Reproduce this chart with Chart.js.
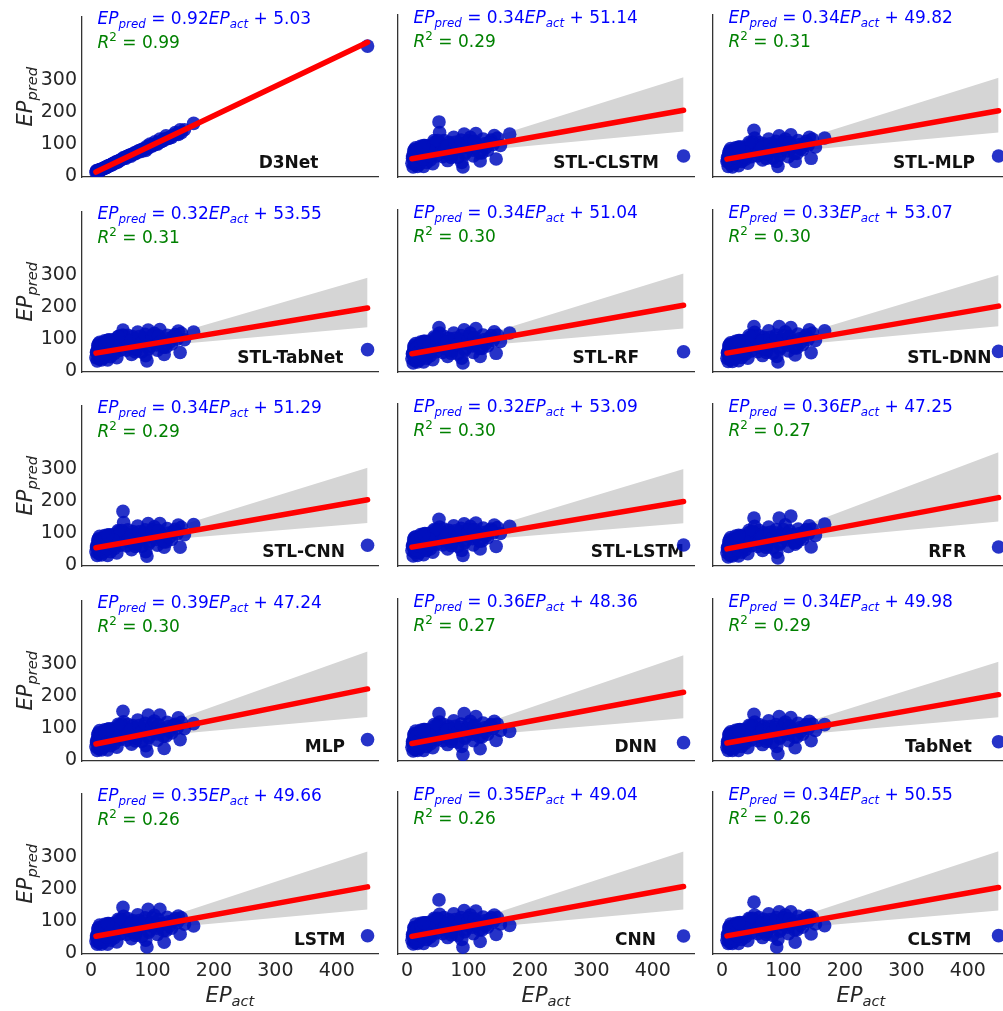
<!DOCTYPE html>
<html>
<head>
<meta charset="utf-8">
<script src="https://cdn.jsdelivr.net/npm/chart.js@4.4.1/dist/chart.umd.min.js"></script>
<style>
  html, body { margin: 0; padding: 0; background: #fff; overflow: hidden; }
  #grid { position: relative; width: 1003px; height: 1011px; }
  #grid canvas { position: absolute; }
</style>
</head>
<body>
<div id="grid"></div>
<script>
// Actual EP values (shared test set)
const actual = [8, 9, 10, 11, 12, 13, 14, 15, 16, 17,
  18, 20, 21, 22, 24, 25, 27, 28, 30, 32,
  34, 35, 38, 40, 42, 45, 48, 52, 53, 55,
  58, 60, 63, 66, 70, 73, 76, 80, 83, 86,
  89, 91, 93, 96, 100, 104, 108, 112, 115, 119,
  122, 126, 131, 137, 142, 145, 147, 152, 167, 450,
  9, 11, 12, 14, 16, 19, 23, 26, 29, 33,
  37, 41, 46, 50, 57, 62, 68, 75, 85, 98,
  60, 65, 72, 78, 82, 88, 94, 99, 103, 107,
  110, 114, 118, 124, 128, 134, 140, 44, 36, 27];

// Predicted EP for each model
const predD3Net = [12, 15, 13, 17, 16, 19, 17, 20, 19, 21,
  22, 23, 25, 24, 28, 27, 31, 30, 33, 35,
  37, 38, 41, 44, 45, 48, 51, 55, 58, 57,
  61, 62, 66, 67, 72, 74, 77, 79, 84, 85,
  80, 93, 87, 100, 94, 107, 100, 116, 108, 112,
  126, 118, 121, 136, 130, 145, 136, 145, 165, 407,
  17, 14, 18, 16, 21, 22, 27, 28, 33, 34,
  40, 42, 47, 52, 56, 64, 68, 73, 83, 96,
  63, 62, 70, 80, 77, 84, 92, 95, 98, 103,
  104, 108, 115, 118, 121, 128, 132, 44, 37, 30];
const predStlClstm = [40, 62, 28, 78, 50, 35, 88, 45, 60, 30,
  72, 55, 38, 92, 48, 66, 30, 82, 58, 42,
  95, 70, 50, 85, 38, 105, 62, 168, 135, 100,
  60, 110, 72, 48, 98, 65, 120, 80, 58, 102,
  42, 28, 130, 75, 110, 88, 62, 132, 95, 47,
  72, 100, 80, 112, 126, 53, 118, 95, 130, 62,
  55, 68, 82, 48, 75, 60, 88, 52, 95, 70,
  62, 88, 78, 110, 85, 92, 105, 82, 95, 88,
  75, 92, 58, 105, 85, 112, 68, 98, 120, 80,
  108, 90, 72, 115, 88, 105, 98, 110, 78, 95];
const predStlMlp = [45, 58, 30, 72, 52, 38, 85, 48, 65, 28,
  75, 52, 40, 88, 45, 70, 32, 78, 55, 45,
  90, 68, 52, 82, 40, 100, 60, 142, 118, 95,
  62, 105, 70, 50, 95, 68, 115, 82, 55, 98,
  45, 30, 125, 78, 108, 90, 60, 128, 92, 45,
  70, 98, 82, 108, 120, 55, 115, 90, 118, 62,
  50, 65, 78, 52, 70, 58, 82, 55, 90, 68,
  60, 85, 75, 105, 80, 90, 100, 78, 92, 85,
  72, 88, 55, 100, 82, 108, 65, 95, 115, 78,
  104, 88, 70, 110, 85, 100, 95, 105, 75, 90];
const predStlTabNet = [42, 60, 32, 80, 55, 38, 90, 50, 62, 35,
  75, 58, 42, 95, 50, 68, 35, 85, 60, 45,
  98, 72, 55, 88, 42, 108, 65, 128, 112, 100,
  65, 112, 75, 52, 100, 68, 122, 85, 60, 105,
  48, 32, 128, 78, 112, 90, 65, 130, 98, 52,
  75, 102, 85, 115, 125, 58, 118, 98, 122, 67,
  58, 70, 85, 50, 78, 62, 90, 55, 98, 72,
  65, 90, 80, 112, 88, 95, 108, 85, 98, 92,
  78, 95, 60, 108, 88, 115, 70, 100, 118, 82,
  110, 92, 75, 112, 90, 108, 100, 108, 80, 96];
const predStlRf = [38, 55, 25, 75, 48, 32, 85, 42, 58, 28,
  70, 52, 35, 90, 45, 62, 28, 80, 55, 40,
  92, 68, 48, 82, 35, 102, 60, 135, 118, 95,
  58, 108, 70, 45, 95, 62, 118, 78, 52, 100,
  40, 25, 128, 72, 108, 85, 58, 132, 92, 45,
  70, 98, 78, 110, 122, 55, 112, 92, 118, 60,
  52, 65, 80, 45, 72, 58, 85, 50, 92, 68,
  60, 85, 75, 108, 82, 90, 102, 80, 92, 85,
  72, 90, 55, 102, 82, 110, 65, 95, 118, 78,
  105, 88, 70, 112, 85, 102, 95, 106, 76, 92];
const predStlDnn = [40, 58, 30, 78, 52, 35, 88, 45, 62, 30,
  72, 55, 38, 92, 48, 65, 32, 82, 58, 42,
  95, 70, 52, 85, 40, 105, 62, 138, 120, 98,
  60, 110, 72, 48, 98, 65, 125, 80, 55, 102,
  45, 28, 138, 75, 110, 88, 62, 135, 95, 50,
  72, 100, 82, 112, 128, 57, 118, 95, 125, 61,
  55, 68, 82, 48, 75, 60, 88, 52, 95, 70,
  62, 88, 78, 110, 85, 92, 105, 82, 95, 90,
  75, 92, 58, 105, 85, 112, 68, 98, 122, 80,
  108, 90, 72, 115, 88, 105, 98, 110, 78, 95];
const predStlCnn = [42, 60, 30, 78, 50, 35, 90, 45, 62, 32,
  72, 55, 40, 92, 48, 68, 30, 82, 58, 42,
  95, 70, 52, 85, 38, 105, 62, 168, 133, 100,
  60, 110, 72, 48, 98, 65, 122, 80, 58, 102,
  42, 28, 130, 75, 112, 88, 62, 130, 95, 56,
  72, 100, 80, 112, 125, 56, 118, 95, 127, 62,
  55, 66, 82, 50, 75, 58, 88, 52, 95, 70,
  62, 88, 78, 108, 85, 92, 105, 82, 95, 88,
  75, 90, 58, 104, 85, 110, 68, 98, 120, 80,
  108, 90, 72, 114, 88, 104, 98, 108, 78, 94];
const predStlLstm = [45, 62, 28, 80, 52, 38, 88, 48, 60, 30,
  75, 55, 40, 95, 50, 68, 32, 85, 58, 45,
  98, 72, 50, 88, 40, 108, 65, 142, 118, 100,
  62, 112, 75, 50, 100, 68, 122, 82, 58, 105,
  45, 30, 128, 78, 112, 90, 62, 130, 98, 50,
  75, 102, 85, 112, 124, 58, 116, 98, 120, 62,
  58, 70, 85, 48, 78, 60, 90, 55, 98, 72,
  62, 90, 80, 110, 88, 95, 108, 85, 98, 90,
  78, 94, 60, 106, 88, 114, 70, 100, 120, 82,
  110, 92, 74, 115, 90, 106, 100, 110, 80, 96];
const predRfr = [38, 55, 25, 72, 48, 30, 85, 42, 58, 28,
  68, 50, 35, 90, 45, 62, 28, 80, 52, 40,
  92, 65, 48, 82, 35, 102, 60, 146, 120, 95,
  58, 108, 70, 45, 95, 62, 118, 78, 52, 100,
  40, 22, 146, 72, 110, 88, 58, 152, 95, 65,
  70, 98, 80, 110, 122, 56, 112, 92, 127, 56,
  50, 62, 78, 45, 70, 55, 82, 48, 90, 65,
  58, 82, 72, 105, 80, 88, 100, 78, 92, 85,
  72, 88, 55, 102, 82, 110, 65, 95, 125, 78,
  106, 88, 70, 112, 85, 102, 96, 108, 76, 92];
const predMlp = [42, 60, 30, 80, 52, 35, 92, 48, 65, 32,
  75, 58, 40, 95, 50, 70, 32, 85, 60, 45,
  98, 72, 52, 88, 40, 108, 65, 153, 120, 100,
  62, 112, 75, 50, 100, 68, 125, 82, 58, 105,
  45, 28, 141, 78, 115, 90, 62, 141, 98, 36,
  75, 105, 85, 112, 132, 64, 118, 98, 114, 64,
  55, 68, 85, 50, 78, 60, 90, 55, 98, 72,
  62, 90, 80, 112, 88, 95, 108, 85, 98, 92,
  78, 95, 60, 108, 88, 115, 70, 100, 122, 82,
  110, 92, 75, 118, 90, 108, 100, 112, 80, 96];
const predDnn = [40, 58, 28, 78, 50, 32, 90, 45, 62, 30,
  72, 55, 38, 92, 48, 68, 30, 82, 58, 42,
  95, 70, 50, 85, 38, 105, 62, 144, 118, 98,
  60, 110, 72, 48, 98, 65, 122, 80, 55, 102,
  42, 17, 144, 75, 112, 88, 60, 135, 95, 35,
  72, 100, 80, 110, 120, 61, 112, 92, 89, 54,
  52, 65, 82, 48, 75, 58, 88, 52, 95, 70,
  60, 88, 78, 110, 85, 92, 105, 82, 95, 88,
  75, 92, 58, 105, 85, 112, 68, 98, 120, 80,
  108, 90, 72, 115, 88, 105, 98, 110, 78, 95];
const predTabNet = [40, 58, 30, 78, 52, 35, 88, 45, 62, 30,
  72, 55, 38, 92, 48, 65, 30, 82, 58, 42,
  95, 70, 52, 85, 38, 105, 62, 142, 118, 98,
  60, 110, 72, 48, 98, 65, 122, 80, 55, 102,
  42, 20, 135, 75, 112, 88, 60, 132, 95, 38,
  72, 100, 80, 110, 120, 60, 112, 92, 110, 57,
  52, 65, 82, 48, 75, 58, 88, 52, 95, 70,
  60, 88, 78, 108, 85, 92, 105, 82, 95, 88,
  75, 90, 58, 104, 85, 110, 68, 98, 118, 80,
  106, 90, 72, 114, 88, 104, 98, 108, 78, 94];
const predLstm = [38, 55, 28, 75, 48, 32, 88, 42, 60, 28,
  70, 52, 35, 90, 45, 65, 28, 80, 55, 40,
  92, 68, 48, 82, 35, 102, 60, 143, 115, 95,
  58, 108, 70, 45, 95, 62, 120, 78, 52, 100,
  40, 19, 137, 72, 110, 85, 58, 137, 92, 34,
  70, 98, 78, 108, 116, 59, 110, 90, 85, 54,
  50, 62, 80, 45, 72, 55, 85, 50, 92, 68,
  58, 85, 75, 105, 82, 90, 102, 80, 92, 85,
  72, 90, 55, 102, 82, 110, 65, 95, 118, 78,
  105, 88, 70, 112, 85, 102, 95, 106, 76, 92];
const predCnn = [40, 58, 28, 78, 50, 32, 90, 45, 62, 30,
  72, 55, 38, 92, 48, 65, 30, 82, 58, 42,
  95, 70, 50, 85, 38, 105, 62, 165, 120, 98,
  60, 110, 72, 48, 98, 65, 122, 80, 55, 102,
  42, 18, 132, 75, 110, 88, 60, 130, 95, 36,
  72, 100, 80, 110, 118, 58, 110, 90, 86, 53,
  52, 64, 80, 46, 74, 56, 86, 50, 94, 68,
  58, 86, 76, 108, 84, 90, 104, 80, 94, 86,
  74, 90, 56, 104, 84, 110, 66, 96, 118, 80,
  106, 88, 72, 112, 86, 104, 96, 108, 78, 94];
const predClstm = [40, 58, 30, 78, 50, 32, 90, 45, 62, 30,
  72, 55, 38, 92, 48, 65, 30, 82, 58, 42,
  95, 70, 50, 85, 38, 105, 62, 158, 118, 98,
  60, 110, 72, 48, 98, 65, 122, 80, 55, 102,
  19, 42, 128, 75, 110, 88, 60, 128, 95, 34,
  72, 100, 80, 110, 116, 59, 110, 90, 85, 54,
  52, 65, 82, 48, 75, 58, 88, 52, 95, 70,
  60, 88, 78, 108, 85, 92, 105, 82, 95, 88,
  75, 90, 58, 104, 85, 110, 68, 98, 118, 80,
  106, 90, 72, 114, 88, 104, 98, 108, 78, 94];

const models = ['D3Net', 'STL-CLSTM', 'STL-MLP', 'STL-TabNet', 'STL-RF', 'STL-DNN',
  'STL-CNN', 'STL-LSTM', 'RFR', 'MLP', 'DNN', 'TabNet', 'LSTM', 'CNN', 'CLSTM'];
const predictions = [predD3Net, predStlClstm, predStlMlp, predStlTabNet, predStlRf, predStlDnn,
  predStlCnn, predStlLstm, predRfr, predMlp, predDnn, predTabNet, predLstm, predCnn, predClstm];

// Fitted line and R² for each model
const slopes = [0.92, 0.34, 0.34, 0.32, 0.34, 0.33, 0.34, 0.32, 0.36, 0.39, 0.36, 0.34, 0.35, 0.35, 0.34];
const intercepts = [5.03, 51.14, 49.82, 53.55, 51.04, 53.07, 51.29, 53.09, 47.25, 47.24, 48.36, 49.98, 49.66, 49.04, 50.55];
const r2Values = [0.99, 0.29, 0.31, 0.31, 0.30, 0.30, 0.29, 0.30, 0.27, 0.30, 0.27, 0.29, 0.26, 0.26, 0.26];

// Confidence band edges at bandX
const bandX = [8, 70, 450];
const bandUpper = [[15, 71, 425], [62, 79, 307], [61, 78, 305], [64, 80, 292], [62, 79, 303],
  [64, 80, 298], [62, 79, 305], [64, 80, 298], [58, 77, 350], [58, 79, 340],
  [59, 78, 325], [61, 78, 305], [61, 78, 318], [60, 78, 315], [61, 78, 316]];
const bandLower = [[10, 68, 413], [46, 71, 138], [44, 69, 135], [48, 72, 137], [46, 71, 132],
  [47, 72, 139], [46, 71, 132], [47, 71, 130], [42, 68, 135], [42, 70, 135],
  [43, 69, 130], [44, 69, 133], [44, 70, 136], [43, 69, 135], [45, 70, 132]];

const xTicks = [0, 100, 200, 300, 400];
const yTicks = [0, 100, 200, 300];

// Panel layout (page pixels)
const colLeft = [82, 397.5, 713];
const rowTop = [15, 209.5, 404, 598.5, 792];
const plotW = 296, plotH = 162;
const padL = 82, padT = 15, padR = 12, padB = 57;
// right edge of the model name, from the plot's left side
const labelRight = [236.5, 261, 262, 261.5, 241, 278.5, 263, 286, 253, 263, 259, 259, 263.5, 258, 258.5];

const FONT = '"DejaVu Sans", "Liberation Sans", sans-serif';

// draws a run of mathtext-like pieces, returns end x
function drawRuns(ctx, x, y, runs, size, measureOnly) {
  runs.forEach(r => {
    const s = (r.sub || r.sup) ? size * 0.7 : size;
    ctx.font = (r.it ? 'italic ' : '') + s + 'px ' + FONT;
    const dy = r.sub ? size * 0.22 : (r.sup ? -size * 0.38 : 0);
    if (!measureOnly) ctx.fillText(r.t, x, y + dy);
    x += ctx.measureText(r.t).width;
  });
  return x;
}

function panelText(i, row, col) {
  return {
    id: 'panelText' + i,
    beforeDatasetsDraw(chart) {
      const ctx = chart.ctx;
      const a = chart.chartArea;
      ctx.save();
      ctx.textAlign = 'left';
      ctx.textBaseline = 'alphabetic';

      ctx.fillStyle = '#0000ff';
      drawRuns(ctx, a.left + 15.5, a.top + 8, [
        { t: 'EP', it: 1 }, { t: 'pred', it: 1, sub: 1 },
        { t: ' = ' + slopes[i].toFixed(2) },
        { t: 'EP', it: 1 }, { t: 'act', it: 1, sub: 1 },
        { t: ' + ' + intercepts[i].toFixed(2) }
      ], 17);

      ctx.fillStyle = '#008000';
      drawRuns(ctx, a.left + 15.5, a.top + 31.5, [
        { t: 'R', it: 1 }, { t: '2', sup: 1 }, { t: ' = ' + r2Values[i].toFixed(2) }
      ], 17);

      ctx.fillStyle = '#111';
      ctx.font = 'bold 17px ' + FONT;
      ctx.textAlign = 'right';
      ctx.fillText(models[i], a.left + labelRight[i], a.bottom - 9.5);
      ctx.textAlign = 'left';

      ctx.fillStyle = '#262626';
      if (col === 0) {
        const yRuns = [{ t: 'EP', it: 1 }, { t: 'pred', it: 1, sub: 1 }];
        const w = drawRuns(ctx, 0, 0, yRuns, 21, true);
        ctx.save();
        ctx.translate(a.left - 50, (a.top + a.bottom) / 2);
        ctx.rotate(-Math.PI / 2);
        drawRuns(ctx, -w / 2, 0, yRuns, 21);
        ctx.restore();
      }
      if (row === 4) {
        const xRuns = [{ t: 'EP', it: 1 }, { t: 'act', it: 1, sub: 1 }];
        const w = drawRuns(ctx, 0, 0, xRuns, 21, true);
        drawRuns(ctx, (a.left + a.right) / 2 - w / 2, a.bottom + 47.5, xRuns, 21);
      }
      ctx.restore();
    }
  };
}

const grid = document.getElementById('grid');

models.forEach((name, i) => {
  const row = Math.floor(i / 3), col = i % 3;
  const canvas = document.createElement('canvas');
  canvas.width = padL + plotW + padR;
  canvas.height = padT + plotH + padB;
  canvas.style.left = (colLeft[col] - padL) + 'px';
  canvas.style.top = (rowTop[row] - padT) + 'px';
  grid.appendChild(canvas);

  const preds = predictions[i];
  const xStart = Math.min(...actual), xEnd = Math.max(...actual);

  new Chart(canvas.getContext('2d'), {
    type: 'scatter',
    data: {
      datasets: [
        {
          type: 'line',
          data: bandX.map((x, k) => ({ x: x, y: bandUpper[i][k] })),
          borderWidth: 0, pointRadius: 0,
          backgroundColor: '#d5d5d5', fill: '+1', order: 3
        },
        {
          type: 'line',
          data: bandX.map((x, k) => ({ x: x, y: bandLower[i][k] })),
          borderWidth: 0, pointRadius: 0, fill: false, order: 3
        },
        {
          type: 'scatter',
          data: actual.map((x, k) => ({ x: x, y: preds[k] })),
          pointRadius: 6.8, borderWidth: 0,
          backgroundColor: 'rgba(0, 15, 190, 0.85)', order: 2
        },
        {
          type: 'line',
          data: [
            { x: xStart, y: slopes[i] * xStart + intercepts[i] },
            { x: xEnd, y: slopes[i] * xEnd + intercepts[i] }
          ],
          borderColor: '#ff0000', borderWidth: 5.5, borderCapStyle: 'round',
          pointRadius: 0, fill: false, order: 1
        }
      ]
    },
    options: {
      responsive: false,
      animation: false,
      events: [],
      layout: { padding: { top: padT, right: padR, left: 0, bottom: 0 } },
      plugins: { legend: { display: false }, tooltip: { enabled: false } },
      scales: {
        x: {
          type: 'linear', min: -14.7, max: 467,
          afterBuildTicks: s => { s.ticks = xTicks.map(v => ({ value: v })); },
          afterFit: s => { s.height = padB; },
          grid: { display: false, drawTicks: false },
          border: { display: true, color: '#333', width: 1.3 },
          ticks: {
            display: row === 4, autoSkip: false, maxRotation: 0, padding: 6,
            color: '#262626', font: { family: FONT, size: 19 }
          }
        },
        y: {
          type: 'linear', min: -3, max: 500,
          afterBuildTicks: s => { s.ticks = yTicks.map(v => ({ value: v })); },
          afterFit: s => { s.width = padL; },
          grid: { display: false, drawTicks: false },
          border: { display: true, color: '#333', width: 1.3 },
          ticks: {
            display: col === 0, autoSkip: false, padding: 5,
            color: '#262626', font: { family: FONT, size: 19 }
          }
        }
      }
    },
    plugins: [panelText(i, row, col)]
  });
});
</script>
</body>
</html>
